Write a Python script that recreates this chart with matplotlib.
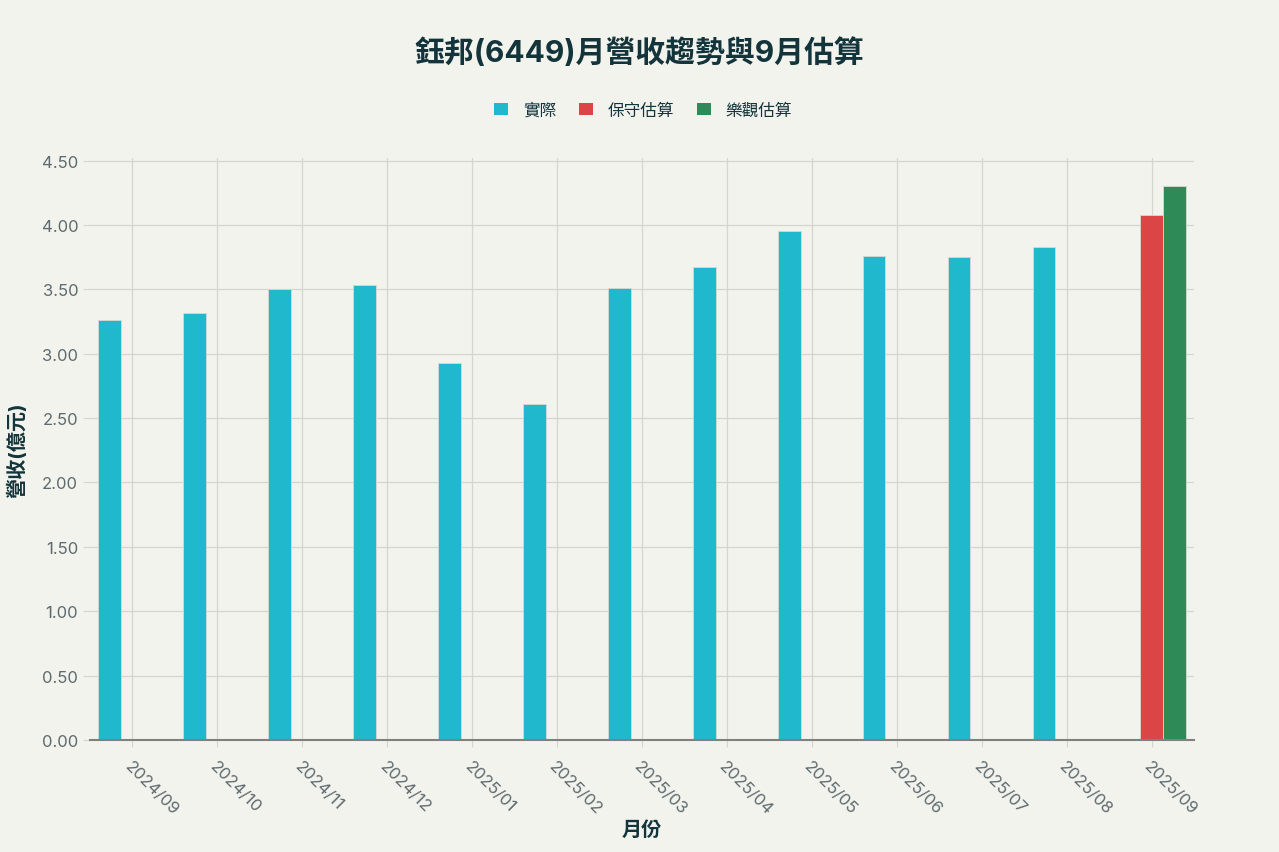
import numpy as np
import matplotlib
matplotlib.use("Agg")
import matplotlib.pyplot as plt
from matplotlib.patches import Patch

plt.rcParams['font.family'] = ['Inter', 'Noto Sans CJK TC', 'DejaVu Sans']

# 資料
months = ["2024/09", "2024/10", "2024/11", "2024/12", "2025/01", "2025/02",
          "2025/03", "2025/04", "2025/05", "2025/06", "2025/07", "2025/08", "2025/09"]
actual = [3.26, 3.32, 3.50, 3.53, 2.93, 2.61, 3.51, 3.67, 3.95, 3.76, 3.75, 3.83, None]
conservative = [None] * 12 + [4.08]
optimistic = [None] * 12 + [4.30]

series_names = ["實際", "保守估算", "樂觀估算"]
colors = ["#1FB8CD", "#DB4545", "#2E8B57"]

bg = "#F3F3EE"
title_color = "#13343B"
tick_color = "#5E6A6E"

fig = plt.figure(figsize=(12.79, 8.53), dpi=100, facecolor=bg)
ax = fig.add_axes([90 / 1279, 1 - 741 / 853, 1104 / 1279, 582 / 853])
ax.set_facecolor(bg)

x = np.arange(len(months))
w = 0.8 / 3
for k, (vals, c) in enumerate(zip([actual, conservative, optimistic], colors)):
    xs = [x[i] + (k - 1) * w for i, v in enumerate(vals) if v is not None]
    ys = [v for v in vals if v is not None]
    ax.bar(xs, ys, width=w, color=c, edgecolor="#D8D8D4", linewidth=0.6, zorder=3)

ax.set_xlim(-0.5, len(months) - 0.5)
ax.set_ylim(0, 4.52)
ax.set_yticks(np.arange(0, 4.51, 0.5))
ax.set_yticklabels([f"{v:.2f}" for v in np.arange(0, 4.51, 0.5)])
ax.set_xticks(x)
ax.set_xticklabels(months, rotation=-45, ha="left", va="top", rotation_mode="anchor")

ax.grid(True, color="#D6D4CF", linewidth=0.9, zorder=0)
for s in ["top", "right", "left"]:
    ax.spines[s].set_visible(False)
ax.spines["bottom"].set_color("#808080")
ax.spines["bottom"].set_linewidth(1.5)
ax.spines["bottom"].set_zorder(4)
ax.tick_params(axis="both", colors="#D6D4CF", labelcolor=tick_color, labelsize=12, length=5)
ax.tick_params(axis="x", pad=8)

ax.set_xlabel("月份", fontsize=14.5, fontweight="bold", color=title_color, labelpad=2)
ax.set_ylabel("營收(億元)", fontsize=14.5, fontweight="bold", color=title_color, labelpad=10)

fig.text(0.5, 1 - 53 / 853, "鈺邦(6449)月營收趨勢與9月估算", ha="center", va="center",
         fontsize=21.5, fontweight="bold", color=title_color)

handles = [Patch(facecolor=c, edgecolor="none") for c in colors]
fig.legend(handles, series_names, loc="center", bbox_to_anchor=(0.503, 1 - 111 / 853),
           ncol=3, frameon=False, fontsize=12, handlelength=0.8, handleheight=0.8,
           handletextpad=0.9, columnspacing=1.4, labelcolor=title_color)

fig.savefig("out.png", dpi=100, facecolor=bg)
